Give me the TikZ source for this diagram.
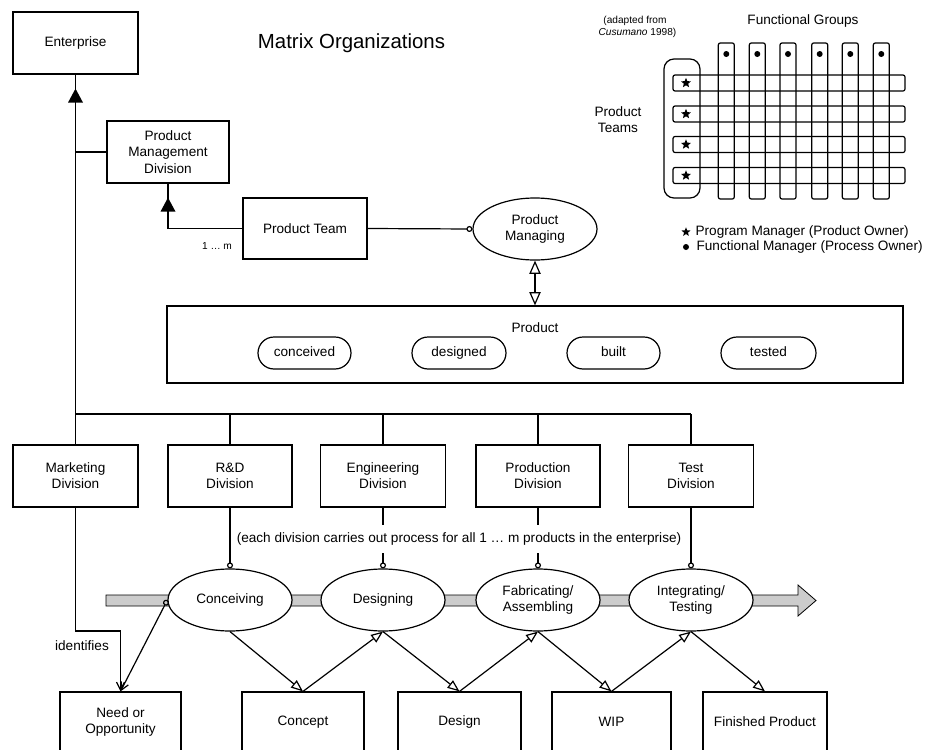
\documentclass[tikz,border=0pt]{standalone}
\usepackage{fontspec}
\setmainfont{Liberation Sans}
\usetikzlibrary{arrows.meta,shapes.geometric,calc}
\begin{document}
\begin{tikzpicture}[x=0.75pt,y=-0.75pt,line width=0.9pt,
  every node/.style={font=\fontsize{10.2}{12}\selectfont,align=center,inner sep=0pt},
  wd/.style={minimum width=#1*0.75pt},
  ht/.style={minimum height=#1*0.75pt},
  box/.style={draw,rectangle,fill=white},
  proc/.style={draw,ellipse,fill=white,minimum width=124*0.75pt,minimum height=62*0.75pt},
  pill/.style={draw,rectangle,rounded corners=12pt,minimum height=32*0.75pt,text height=7.4pt,text depth=2.1pt},
  small/.style={font=\fontsize{7.6}{9}\selectfont},
  starmark/.style={star,star points=5,star point ratio=2.3,fill=black,minimum size=10.5*0.75pt},
  opentri/.style={-{Triangle[open,length=9pt,width=7pt]}},
  dblopen/.style={{Triangle[open,length=10pt,width=8.5pt]}-{Triangle[open,length=10pt,width=8.5pt]}},
  ringend/.style={-{Circle[open,length=4.5pt]}},
  barb/.style={-{Straight Barb[length=6pt,width=6pt]}},
  band/.style={draw,line width=0.6pt,fill=black!20}]
\useasboundingbox (0,0) rectangle (926,750);
\clip (0,0) rectangle (926,750);

% ---------- upper organisation ----------
\node[box,wd=125,ht=62] (ent) at (75.5,43) {Enterprise};
\node[font=\fontsize{15.3}{18}\selectfont] (title) at (351.5,43) {Matrix Organizations};
\node[box,wd=122,ht=62,font=\fontsize{10.2}{12.4}\selectfont] (pmd) at (168,152) {Product\\Management\\Division};
\node[box,wd=124,ht=61] (team) at (305,228.5) {Product Team};
\node[proc,font=\fontsize{10.2}{12.6}\selectfont] (pm) at (535,229) {Product\\Managing};
\node[small] (onem) at (217,246) {1 … m};

% product with its states
\node[box,wd=736,ht=77] (prod) at (535,344.5) {};
\node (prodlbl) at (535,328) {Product};
\node[pill,wd=93] (sc) at (304.5,353) {conceived};
\node[pill,wd=94] (sd) at (459,353) {designed};
\node[pill,wd=93] (sb) at (613.5,353) {built};
\node[pill,wd=95] (st) at (768.5,353) {tested};

% divisions
\node[box,wd=125,ht=62] (mkt) at (75.5,476) {Marketing\\Division};
\node[box,wd=124,ht=62] (rd)  at (230,476) {R\&D\\Division};
\node[box,wd=125,ht=62] (eng) at (383,476) {Engineering\\Division};
\node[box,wd=124,ht=62] (pro) at (538,476) {Production\\Division};
\node[box,wd=125,ht=62] (tst) at (691,476) {Test\\Division};

% ---------- hierarchy links ----------
\coordinate (bus) at (0,414);
\draw (ent.south) -- (mkt.north);
\draw (mkt.north |- bus) -- (tst.north |- bus);
\foreach \d in {rd,eng,pro,tst} \draw (\d.north |- bus) -- (\d.north);
\draw (pmd.west) -- (pmd.west -| ent.south);
\fill ($(ent.south)+(0,14)$) -- ++(-7.5,14) -- ++(15,0) -- cycle;
\draw (team.west) -| (pmd.south);
\fill ($(pmd.south)+(0,14)$) -- ++(-7.5,14) -- ++(15,0) -- cycle;
\draw[ringend] (team.east) -- (pm.west);
\draw[dblopen] (pm.south) -- (prod.north);

% ---------- process flow ----------
\draw[band] (106,595) -- (798,595) -- (798,585) -- (816,600.5) -- (798,616) -- (798,606) -- (106,606) -- cycle;
\node[proc] (conc) at (230,600) {Conceiving};
\node[proc] (des)  at (383,600) {Designing};
\node[proc] (fab)  at (538,600) {Fabricating/\\Assembling};
\node[proc] (integ) at (691,600) {Integrating/\\Testing};

\draw[ringend] (rd.south) -- (conc.north);
\draw[ringend] (eng.south) -- (des.north);
\draw[ringend] (pro.south) -- (fab.north);
\draw[ringend] (tst.south) -- (integ.north);
\node[fill=white,inner xsep=1pt,inner ysep=6pt] (note) at (459,539)
  {(each division carries out process for all 1 … m products in the enterprise)};

% work products
\node[box,wd=121,ht=60] (need)    at (120.5,722) {Need or\\Opportunity};
\node[box,wd=122,ht=60] (concept) at (303,722) {Concept};
\node[box,wd=123,ht=60] (design)  at (459.5,722) {Design};
\node[box,wd=119,ht=60] (wip)     at (611.5,722) {WIP};
\node[box,wd=124,ht=60] (fin)     at (765,722) {Finished Product};

\coordinate (mturn) at (120.5,631);
\draw[barb] (mkt.south) |- (mturn) -- (need.north);
\draw[{Circle[open,length=4.5pt]}-{Straight Barb[length=6pt,width=6pt]}] (conc.west) -- (need.north);
\node (ident) at (82,646) {identifies};

\draw[opentri] (conc.south) -- (concept.north);
\draw[opentri] (concept.north) -- (des.south);
\draw[opentri] (des.south) -- (design.north);
\draw[opentri] (design.north) -- (fab.south);
\draw[opentri] (fab.south) -- (wip.north);
\draw[opentri] (wip.north) -- (integ.south);
\draw[opentri] (integ.south) -- (fin.north);

% ---------- product / function matrix ----------
\node[small] (src1) at (635,21) {(adapted from};
\node[small] (src2) at (637.5,33) {\textit{Cusumano} 1998)};
\node (fg) at (803,21) {Functional Groups};
\node (pt) at (618,120) {Product\\Teams};
\foreach \cx in {726.3,757.3,788,819.7,850.3,881.3} {
  \draw[rounded corners=1.5pt] ({\cx-8},43) rectangle ({\cx+8},199);
  \fill (\cx,54) circle[radius=3];
}
\draw[rounded corners=7.5pt] (664,59) rectangle (700,198);
\foreach \ry in {83,114,144.5,175.5} {
  \draw[rounded corners=1.5pt] (673,{\ry-8}) rectangle (905,{\ry+8});
  \node[starmark] at (686,\ry) {};
}
\node[starmark,minimum size=9.5*0.75pt] (lstar) at (686,232) {};
\node[anchor=west] (lpm) at (695,232) {Program Manager (Product Owner)};
\fill (686,247) circle[radius=3];
\node[anchor=west] (lfm) at (696,247) {Functional Manager (Process Owner)};
\end{tikzpicture}
\end{document}
